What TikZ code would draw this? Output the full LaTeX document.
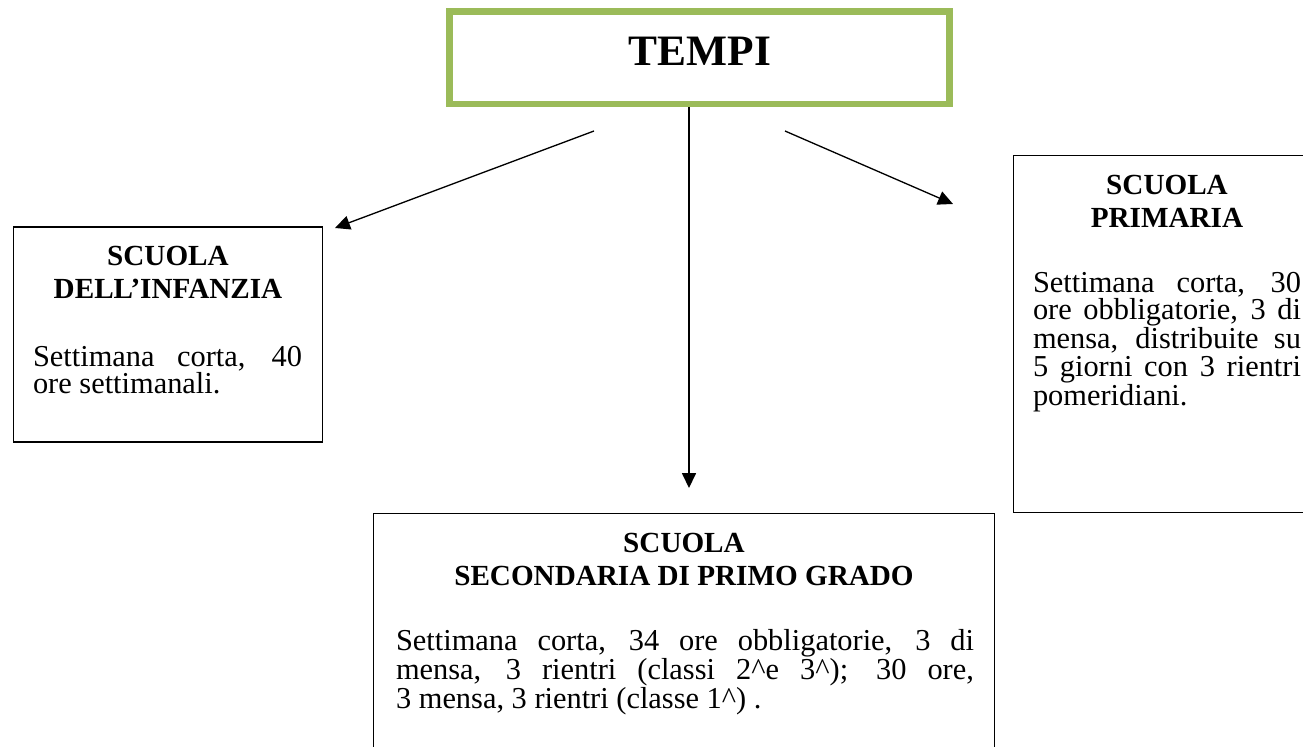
\documentclass[tikz,border=0pt]{standalone}
\usepackage{fontspec}
\setmainfont{Liberation Serif}
\usepackage{tikz}
\usetikzlibrary{arrows.meta}
\definecolor{verdeoliva}{HTML}{9BBB59}
\tikzset{
    riquadro/.style={draw, rectangle, line width=0.6pt, inner sep=0pt},
    titolo/.style={anchor=base, align=center, inner sep=0pt,
        font=\fontsize{16.6}{18.7}\selectfont\bfseries},
    testo/.style={anchor=base, align=justify, inner sep=0pt,
        font=\fontsize{17.3}{15.6}\selectfont},
    freccia/.style={-{Triangle[length=8.5pt,width=8pt]}, line width=0.75pt}
}

\begin{document}
\begin{tikzpicture}[x=0.02cm, y=-0.02cm]
     \useasboundingbox (0,0) rectangle (1303,747);
     \clip (0,0) rectangle (1303,747);
     % titolo
     \node[riquadro, draw=verdeoliva, line width=3.97pt, minimum width=10.01cm, minimum height=1.85cm] (tempi) at (699.75,57.75) {};
     \node[anchor=base, inner sep=0pt, font=\fontsize{24.7}{28}\selectfont\bfseries] (tempi-txt) at (700,65) {TEMPI};
     % scuola dell'infanzia
     \node[riquadro, minimum width=6.2cm, minimum height=4.3cm] (infanzia) at (168,334.5) {};
     \node[titolo] (infanzia-tit) at (168,298) {SCUOLA\\DELL’INFANZIA};
     \node[testo, text width=5.38cm] (infanzia-txt) at (167.5,366) {Settimana corta, 40\linebreak ore settimanali.};
     % scuola primaria
     \node[riquadro, minimum width=6.16cm, minimum height=7.16cm] (primaria) at (1167,334) {};
     \node[titolo] (primaria-tit) at (1167,227) {SCUOLA\\PRIMARIA};
     \node[testo, text width=5.36cm] (primaria-txt) at (1167,292) {Settimana corta, 30\linebreak ore obbligatorie, 3 di\linebreak mensa, distribuite su\linebreak 5 giorni con 3 rientri\linebreak pomeridiani.};
     % scuola secondaria
     \node[riquadro, minimum width=12.44cm, minimum height=5.74cm] (secondaria) at (684,656.5) {};
     \node[titolo] (secondaria-tit) at (684,585) {SCUOLA\\SECONDARIA DI PRIMO GRADO};
     \node[testo, text width=11.56cm] (secondaria-txt) at (685,650) {Settimana corta, 34 ore obbligatorie, 3 di\linebreak mensa, 3 rientri (classi 2\textasciicircum e 3\textasciicircum); 30 ore,\linebreak 3 mensa, 3 rientri (classe 1\textasciicircum) .};
     % frecce
     \coordinate (sx-a) at (594,131);
     \coordinate (sx-b) at (335,228);
     \coordinate (cx-a) at (tempi.south -| 689,0);
     \coordinate (cx-b) at (689,488);
     \coordinate (dx-a) at (785,131);
     \coordinate (dx-b) at (953,204);
     \foreach \a/\b in {sx-a/sx-b, cx-a/cx-b, dx-a/dx-b} {
          \draw[freccia] (\a) -- (\b);
     }
\end{tikzpicture}
\end{document}
